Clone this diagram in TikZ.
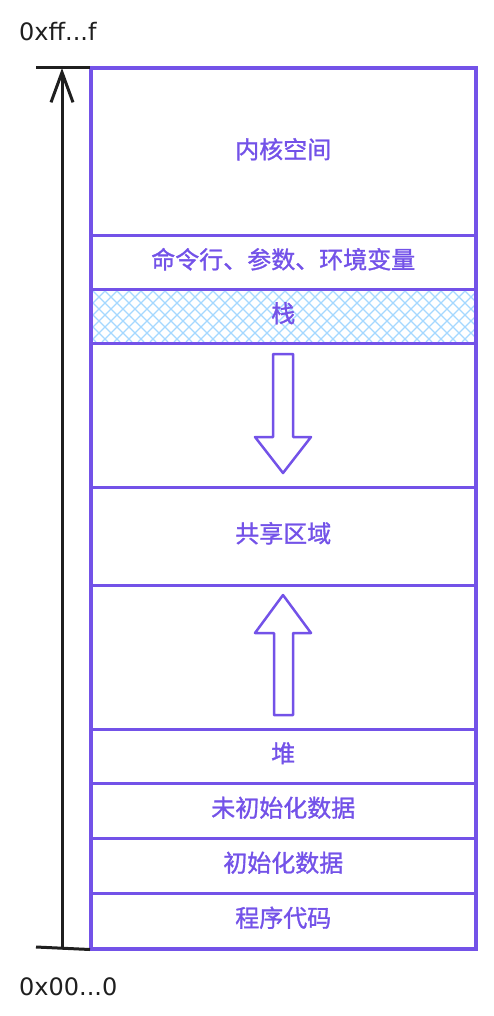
\documentclass[tikz,border=0pt]{standalone}
\usepackage{fontspec}
\newfontfamily\cjk[RawFeature={embolden=1.2}]{Noto Sans CJK SC}
\newfontfamily\lat{DejaVu Sans}
\usetikzlibrary{arrows.meta,backgrounds}
\definecolor{vio}{HTML}{7352E8}
\definecolor{hatch}{HTML}{A5D8FF}
\newcommand\liftlabel[1]{\raisebox{3pt}[\height][\depth]{#1}}
\tikzset{
  seg/.style={draw=vio, line width=2.5pt, minimum width=384pt, inner sep=0pt, anchor=north west,
    text=vio, font=\cjk\fontsize{24}{28}\selectfont},
  blockarrow/.style={draw=vio, line width=2.5pt, line join=round},
  axis/.style={draw=black!88, line width=3pt},
  addr/.style={anchor=west, inner sep=0pt, text=black!88, font=\lat\fontsize{24}{28}\selectfont},
  hatchline/.style={draw=hatch, line width=1.3pt}
}
\begin{document}
\begin{tikzpicture}[x=1pt,y=-1pt]
\useasboundingbox (0,0) rectangle (494,1016);
\node[seg, minimum height=166pt] (kernel) at (90,68) {\liftlabel{内核空间}};
\node[seg, minimum height=54pt] (cmd) at (90,234) {\liftlabel{命令行、参数、环境变量}};
\begin{scope}
  \clip (90,288) rectangle (474,342);
  \foreach \i in {-60,-48,...,444} {
    \draw[hatchline] (90+\i,288) -- ++(54,54);
    \draw[hatchline] (90+\i,342) -- ++(54,-54);
  }
\end{scope}
\node[seg, minimum height=54pt] (stack) at (90,288) {\liftlabel{栈}};
\node[seg, minimum height=144pt] (gapa) at (90,342) {};
\node[seg, minimum height=98pt] (shared) at (90,486) {\liftlabel{共享区域}};
\node[seg, minimum height=144pt] (gapb) at (90,584) {};
\node[seg, minimum height=54pt] (heap) at (90,728) {\liftlabel{堆}};
\node[seg, minimum height=55pt] (bss) at (90,782) {\liftlabel{未初始化数据}};
\node[seg, minimum height=55pt] (data) at (90,837) {\liftlabel{初始化数据}};
\node[seg, minimum height=55pt] (text) at (90,892) {\liftlabel{程序代码}};
\draw[draw=vio, line width=3pt] (kernel.north west) rectangle (text.south east);
% block arrows
\draw[blockarrow] (273,354) -- (293,354) -- (293,437) -- (311,437) -- (283,473) -- (255,437) -- (273,437) -- cycle;
\draw[blockarrow] (283,595) -- (311,633) -- (293,633) -- (293,715) -- (274,715) -- (274,633) -- (255,633) -- cycle;
% axis
\coordinate (atop) at (62,68);
\coordinate (abot) at (62,947);
\coordinate (ttl) at (36,68);
\coordinate (tbl) at (36,947);
\draw[axis, -{Straight Barb[length=30pt,width=22pt,line width=3pt]}] (abot) -- (atop);
\draw[axis] (ttl) -- (kernel.north west);
\draw[axis] (tbl) -- (text.south west);
\node[addr] (hi) at (19,32) {0xff...f};
\node[addr] (lo) at (19,987) {0x00...0};
\end{tikzpicture}
\end{document}
